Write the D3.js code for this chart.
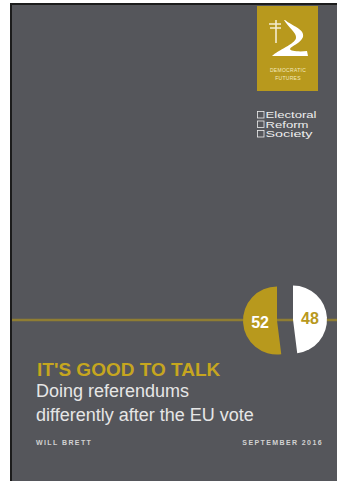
<!DOCTYPE html>
<html>
<head>
<meta charset="utf-8">
<script src="https://d3js.org/d3.v7.min.js"></script>
<style>
  body { margin: 0; background: #ffffff; }
  svg { display: block; }
</style>
</head>
<body>
<div id="cover"></div>
<script>
// referendum result shown on the cover
var voteNames = ["Leave", "Remain"];
var voteShares = [52, 48];
var sliceColors = ["#b8991d", "#ffffff"];
var sliceTextColors = ["#ffffff", "#b8991d"];

// cover texts
var coverTitle = "IT'S GOOD TO TALK";
var subtitleLines = ["Doing referendums", "differently after the EU vote"];
var authorText = "WILL BRETT";
var dateText = "SEPTEMBER 2016";
var logoLines = ["DEMOCRATIC", "FUTURES"];
var ersLines = ["Electoral", "Reform", "Society"];
var ersWidths = [52, 44, 48];

var width = 337, height = 481;
var gray = "#55565b";
var gold = "#b8991d";

var svg = d3.select("#cover")
  .append("svg")
    .attr("width", width)
    .attr("height", height)
    .style("font-family", "'Liberation Sans', Arial, Helvetica, sans-serif");

// white page, black edge, grey cover
svg.append("rect")
  .attr("x", 0).attr("y", 0)
  .attr("width", width).attr("height", height)
  .attr("fill", "#ffffff");
svg.append("rect")
  .attr("x", 10).attr("y", 3)
  .attr("width", width - 10).attr("height", height - 3)
  .attr("fill", "#1c1c1c");
svg.append("rect")
  .attr("x", 12).attr("y", 5)
  .attr("width", width - 12).attr("height", height - 5)
  .attr("fill", gray);

//----------------------------------------------------------------
//       Democratic Futures logo
//----------------------------------------------------------------
var logo = svg.append("g")
  .attr("transform", "translate(257,6)");

logo.append("rect")
  .attr("width", 61).attr("height", 85)
  .attr("fill", gold);

// signpost
logo.append("path")
  .attr("d", "M19,14 L19,37 M12,18 L24,18 M13,22 L24,22")
  .attr("stroke", "#f4ecd0")
  .attr("stroke-width", 1.6)
  .attr("fill", "none");

// the road, thin at the top and wide at the bottom
logo.append("path")
  .attr("d", "M28,14 C35,20 48,23 46,31 C44,37 34,40 33,43 C33,45 42,46 50,45 L51,50 L15,50 C21,44 38,38 39,32 C40,27 31,21 27,14 Z")
  .attr("fill", "#ffffff");

logo.selectAll("text.lg")
  .data(logoLines)
  .enter()
  .append("text")
    .attr("class", "lg")
    .attr("x", 31)
    .attr("y", function(d, i) { return 66 + i * 8; })
    .attr("text-anchor", "middle")
    .attr("font-size", "5px")
    .attr("letter-spacing", "0.3px")
    .attr("fill", "#f3e9bf")
    .text(function(d) { return d; });

//----------------------------------------------------------------
//       Electoral Reform Society logo
//----------------------------------------------------------------
var ers = svg.append("g")
  .attr("transform", "translate(257,111)");

ers.selectAll("rect.box")
  .data(ersLines)
  .enter()
  .append("rect")
    .attr("class", "box")
    .attr("x", 0.5)
    .attr("y", function(d, i) { return i * 9.5 + 0.5; })
    .attr("width", 6.5).attr("height", 6.5)
    .attr("fill", "none")
    .attr("stroke", "#eeeeee")
    .attr("stroke-width", 0.8);

var ersText = ers.append("text")
  .attr("font-size", "9.5px")
  .attr("fill", "#eeeeee");

ersText.selectAll("tspan")
  .data(ersLines)
  .enter()
  .append("tspan")
    .attr("x", 8.5)
    .attr("y", function(d, i) { return 7.3 + i * 9.5; })
    .attr("textLength", function(d, i) { return ersWidths[i] - 1; })
    .attr("lengthAdjust", "spacingAndGlyphs")
    .text(function(d) { return d; });

//----------------------------------------------------------------
//       52 / 48 split circle
//----------------------------------------------------------------
var cx = 285, cy = 320, radius = 34, gap = 8;

// gold line across the cover
svg.append("line")
  .attr("x1", 12).attr("x2", width)
  .attr("y1", cy).attr("y2", cy)
  .attr("stroke", "#8f7d33")
  .attr("stroke-width", 2.5);

var total = d3.sum(voteShares);
var start = 2 * Math.PI * (1 - voteShares[0] / total);

var pie = d3.pie()
  .sort(null)
  .startAngle(start)
  .endAngle(start + 2 * Math.PI);

var arc = d3.arc()
  .innerRadius(0)
  .outerRadius(radius);

var slices = svg.append("g")
  .attr("transform", "translate(" + cx + "," + cy + ")")
  .selectAll("g.slice")
  .data(pie(voteShares))
  .enter()
  .append("g")
    .attr("class", "slice")
    .attr("transform", function(d) {
      var a = (d.startAngle + d.endAngle) / 2;
      return "translate(" + (gap * Math.sin(a)) + "," + (-gap * Math.cos(a)) + ")";
    });

slices.append("path")
  .attr("d", arc)
  .attr("fill", function(d, i) { return sliceColors[i]; });

slices.append("text")
  .attr("x", function(d) { return arc.centroid(d)[0]; })
  .attr("y", function(d) { return arc.centroid(d)[1] + 6; })
  .attr("text-anchor", "middle")
  .attr("font-size", "16px")
  .attr("font-weight", "bold")
  .attr("fill", function(d, i) { return sliceTextColors[i]; })
  .text(function(d) { return d.data; });

//----------------------------------------------------------------
//       Titles
//----------------------------------------------------------------
svg.append("text")
  .attr("x", 37)
  .attr("y", 376)
  .attr("font-size", "19px")
  .attr("font-weight", "bold")
  .attr("fill", "#c6a61f")
  .text(coverTitle);

svg.selectAll("text.sub")
  .data(subtitleLines)
  .enter()
  .append("text")
    .attr("class", "sub")
    .attr("x", 36)
    .attr("y", function(d, i) { return 397 + i * 23.5; })
    .attr("font-size", "18px")
    .attr("fill", "#e6e6e6")
    .text(function(d) { return d; });

svg.append("text")
  .attr("x", 36)
  .attr("y", 445)
  .attr("font-size", "7px")
  .attr("font-weight", "bold")
  .attr("letter-spacing", "1.4px")
  .attr("fill", "#d2d2d2")
  .text(authorText);

svg.append("text")
  .attr("x", 323)
  .attr("y", 445)
  .attr("text-anchor", "end")
  .attr("font-size", "7px")
  .attr("font-weight", "bold")
  .attr("letter-spacing", "1.4px")
  .attr("fill", "#d2d2d2")
  .text(dateText);
</script>
</body>
</html>
